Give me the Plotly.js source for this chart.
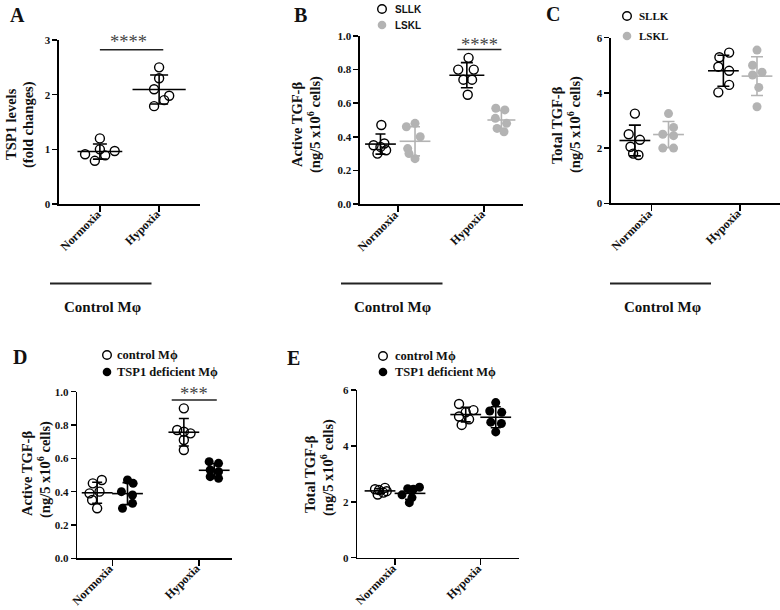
<!DOCTYPE html>
<html><head><meta charset="utf-8">
<script src="https://cdn.plot.ly/plotly-3.0.1.min.js"></script>
<style>body{margin:0;background:#fff}</style>
</head><body>
<div id="chart" style="width:780px;height:610px"></div>
<script>
// ---------------- DATA ----------------
const categories = ['Normoxia', 'Hypoxia'];
// Panel A: TSP1 levels (fold changes), Control Mφ
const aTsp1Normoxia = [1.20, 1.00, 0.91, 0.89, 0.79, 0.97];
const aTsp1Hypoxia  = [2.50, 2.30, 2.10, 1.98, 1.90, 1.79];
// Panel B: Active TGF-β (ng/5x10^6 cells)
const bSllkNormoxia = [0.47, 0.35, 0.36, 0.30, 0.32, 0.34];
const bLsklNormoxia = [0.48, 0.46, 0.40, 0.33, 0.30, 0.27];
const bSllkHypoxia  = [0.87, 0.80, 0.80, 0.74, 0.74, 0.65];
const bLsklHypoxia  = [0.57, 0.56, 0.51, 0.48, 0.45, 0.43];
// Panel C: Total TGF-β
const cSllkNormoxia = [3.25, 2.50, 2.30, 2.05, 1.80, 1.75];
const cLsklNormoxia = [3.25, 2.75, 2.50, 2.45, 2.00, 2.00];
const cSllkHypoxia  = [5.46, 5.29, 4.95, 4.80, 4.29, 4.02];
const cLsklHypoxia  = [5.55, 5.00, 4.75, 4.65, 4.20, 3.50];
// Panel D: Active TGF-β, control vs TSP1 deficient Mϕ
const dControlNormoxia = [0.47, 0.45, 0.40, 0.39, 0.35, 0.30];
const dTsp1dNormoxia   = [0.47, 0.45, 0.40, 0.38, 0.33, 0.30];
const dControlHypoxia  = [0.90, 0.77, 0.76, 0.75, 0.71, 0.65];
const dTsp1dHypoxia    = [0.58, 0.57, 0.53, 0.52, 0.49, 0.48];
// Panel E: Total TGF-β
const eControlNormoxia = [2.50, 2.45, 2.42, 2.38, 2.33, 2.26];
const eTsp1dNormoxia   = [2.52, 2.47, 2.45, 2.25, 2.15, 1.97];
const eControlHypoxia  = [5.50, 5.28, 5.20, 5.05, 4.95, 4.75];
const eTsp1dHypoxia    = [5.55, 5.25, 5.20, 4.85, 4.80, 4.50];
// Tick labels
const tickA = [0, 1, 2, 3];
const tickActive = [0, 0.2, 0.4, 0.6, 0.8, 1.0];
const tickTotal = [0, 2, 4, 6];

// ---------------- LAYOUT HELPERS ----------------
const W = 780, H = 610;
const PX = x => x / W, PY = y => 1 - y / H;
const SERIF = 'Liberation Serif, Times New Roman, DejaVu Serif, serif';
const SANS = 'Liberation Sans, Arial, sans-serif';
const INK = '#111';
const GRAY = '#b3b3b3';

// horizontal scatter spread for each group (category units)
const spread = {
  aN: [0, 0, -0.25, 0.09, -0.085, 0.25],
  aH: [0, 0, -0.085, 0.17, 0.085, -0.085],
  bSN: [0.01, -0.08, 0.045, -0.035, 0.065, 0],
  bLN: [0, -0.1, 0.06, -0.085, -0.07, 0],
  bSH: [0.02, -0.1, 0.08, -0.04, 0.06, 0.01],
  bLH: [-0.065, 0.04, -0.07, 0.06, -0.05, 0.03],
  cSN: [0, -0.07, 0.057, -0.05, -0.02, 0.04],
  cLN: [0, 0.057, -0.065, 0.057, -0.065, 0.057],
  cSH: [0.065, -0.045, -0.057, 0.065, 0.065, -0.057],
  cLH: [0, -0.05, 0.057, -0.05, 0.02, 0],
  dCN: [0.054, -0.05, 0.027, -0.088, -0.058, 0],
  dTN: [0, 0.065, -0.07, 0.058, 0.058, -0.058],
  dCH: [0, -0.077, 0, 0.077, 0, 0],
  dTH: [-0.058, 0.05, -0.046, 0.05, -0.046, 0.05],
  eCN: [0.058, -0.058, -0.012, 0.078, 0.039, -0.027],
  eTN: [0.11, -0.027, 0.039, -0.093, 0.023, -0.008],
  eCH: [-0.078, 0.09, 0, -0.078, 0.039, -0.047],
  eTH: [0, -0.07, 0.07, -0.058, 0.066, 0]
};

const mean = a => a.reduce((s, v) => s + v, 0) / a.length;
const sd = a => { const m = mean(a); return Math.sqrt(a.reduce((s, v) => s + (v - m) * (v - m), 0) / (a.length - 1)); };

const traces = [];
function group(ax, cat, offset, vals, jit, style, meanW, capW) {
  const xs = vals.map((v, i) => cat + offset + jit[i]);
  const open = style === 'open';
  const col = style === 'gray' ? GRAY : '#000';
  traces.push({
    type: 'scatter', mode: 'markers', xaxis: 'x' + ax, yaxis: 'y' + ax,
    x: xs, y: vals, cliponaxis: false, hoverinfo: 'skip',
    marker: open ? {symbol: 'circle-open', size: 9, color: '#000', line: {width: 1.4}}
                 : {symbol: 'circle', size: 9, color: col, line: {width: 0}}
  });
  traces.push({
    type: 'scatter', mode: 'markers', xaxis: 'x' + ax, yaxis: 'y' + ax,
    x: [cat + offset], y: [mean(vals)], cliponaxis: false, hoverinfo: 'skip',
    marker: {symbol: 'line-ew', size: meanW, color: col, line: {width: 1.6, color: col}},
    error_y: {type: 'data', array: [sd(vals)], visible: true, color: col, thickness: 1.6, width: capW}
  });
}

// Panel A
group('', 0, 0, aTsp1Normoxia, spread.aN, 'open', 32, 7);
group('', 1, 0, aTsp1Hypoxia, spread.aH, 'open', 38, 9);
// Panel B
group('2', 0, -0.2, bSllkNormoxia, spread.bSN, 'open', 22, 5);
group('2', 0, 0.2, bLsklNormoxia, spread.bLN, 'gray', 22, 5);
group('2', 1, -0.2, bSllkHypoxia, spread.bSH, 'open', 25, 6);
group('2', 1, 0.2, bLsklHypoxia, spread.bLH, 'gray', 20, 5);
// Panel C
group('3', 0, -0.19, cSllkNormoxia, spread.cSN, 'open', 22, 6);
group('3', 0, 0.19, cLsklNormoxia, spread.cLN, 'gray', 22, 6);
group('3', 1, -0.19, cSllkHypoxia, spread.cSH, 'open', 22, 6);
group('3', 1, 0.19, cLsklHypoxia, spread.cLH, 'gray', 22, 6);
// Panel D
group('4', 0, -0.175, dControlNormoxia, spread.dCN, 'open', 22, 5);
group('4', 0, 0.175, dTsp1dNormoxia, spread.dTN, 'black', 22, 5);
group('4', 1, -0.175, dControlHypoxia, spread.dCH, 'open', 22, 5);
group('4', 1, 0.175, dTsp1dHypoxia, spread.dTH, 'black', 22, 5);
// Panel E
group('5', 0, -0.175, eControlNormoxia, spread.eCN, 'open', 22, 5);
group('5', 0, 0.175, eTsp1dNormoxia, spread.eTN, 'black', 22, 5);
group('5', 1, -0.175, eControlHypoxia, spread.eCH, 'open', 22, 5);
group('5', 1, 0.175, eTsp1dHypoxia, spread.eTH, 'black', 22, 5);

function xAxis(anchor, x0, x1, range) {
  return {
    anchor: anchor, domain: [PX(x0), PX(x1)], range: range,
    tickmode: 'array', tickvals: [0, 1], ticktext: categories, showticklabels: false,
    ticks: 'outside', ticklen: 6, tickwidth: 1.5, tickcolor: '#000',
    showline: true, linewidth: 1.6, linecolor: '#000',
    showgrid: false, zeroline: false, fixedrange: true
  };
}
function yAxis(anchor, yBottom, yTop, range, vals, fmt) {
  return {
    anchor: anchor, domain: [PY(yBottom), PY(yTop)], range: range,
    tickmode: 'array', tickvals: vals, ticktext: vals.map(v => fmt ? v.toFixed(1) : String(v)),
    ticks: 'outside', ticklen: 5, tickwidth: 1.5, tickcolor: '#000',
    showline: true, linewidth: 1.6, linecolor: '#000',
    showgrid: false, zeroline: false, fixedrange: true,
    tickfont: {family: SERIF, size: 11, weight: 700, color: INK}
  };
}

const ann = [];
function txt(x, y, text, size, opts) {
  ann.push(Object.assign({xref: 'paper', yref: 'paper', x: PX(x), y: PY(y), text: text, showarrow: false,
    xanchor: 'center', yanchor: 'middle',
    font: {family: SERIF, size: size, weight: 700, color: INK}}, opts || {}));
}
// Rotated category labels placed at each x tick
function catLabels(ax, axisY) {
  categories.forEach((c, i) => ann.push({
    xref: 'x' + ax, yref: 'paper', x: i, y: PY(axisY), text: c, showarrow: false,
    textangle: -45, xanchor: 'right', yanchor: 'top', xshift: 6, yshift: -1,
    font: {family: SERIF, size: 12, weight: 700, color: INK}
  }));
}
catLabels('', 204); catLabels('2', 204); catLabels('3', 203.3); catLabels('4', 558.3); catLabels('5', 557.7);
// Panel letters
txt(17, 15, 'A', 20); txt(300, 15, 'B', 20); txt(553, 14, 'C', 20);
txt(20, 357, 'D', 20); txt(293, 358, 'E', 20);
// Y-axis titles (two lines each)
const TS = 14.5;
const rot = {textangle: -90};
const activeL1 = 'Active TGF-β', totalL1 = 'Total TGF-β', unitsL2 = '(ng/5 x10<sup>6</sup> cells)';
txt(11, 124, 'TSP1 levels', TS, rot); txt(28, 124, '(fold changes)', TS, rot);
txt(297, 125, activeL1, TS, rot); txt(314, 125, unitsL2, TS, rot);
txt(557, 125, totalL1, TS, rot); txt(574, 125, unitsL2, TS, rot);
txt(27, 474, activeL1, TS, rot); txt(44, 470, unitsL2, TS, rot);
txt(310, 474, totalL1, TS, rot); txt(327, 468, unitsL2, TS, rot);
// Group labels
txt(102, 307, 'Control Mφ', 15); txt(392, 307, 'Control Mφ', 15); txt(662, 307, 'Control Mφ', 15);
// Significance stars
const starFont = {family: SERIF, size: 18.5, weight: 400, color: '#444'};
txt(128, 42, '****', 18.5, {font: starFont});
txt(479, 45.5, '****', 18.5, {font: starFont});
txt(194, 393.5, '***', 18.5, {font: starFont});
// Legends text
const sansLeg = {family: SANS, size: 10, weight: 700, color: INK};
txt(393, 9, 'SLLK', 10, {xanchor: 'left', font: sansLeg});
txt(393, 25, 'LSKL', 10, {xanchor: 'left', font: sansLeg});
txt(637, 16, 'SLLK', 11, {xanchor: 'left'});
txt(637, 36, 'LSKL', 11, {xanchor: 'left'});
txt(115, 355, 'control Mϕ', 12.5, {xanchor: 'left'});
txt(115, 372, 'TSP1 deficient Mϕ', 12.5, {xanchor: 'left'});
txt(393, 356, 'control Mϕ', 12.5, {xanchor: 'left'});
txt(393, 372, 'TSP1 deficient Mϕ', 12.5, {xanchor: 'left'});

const shapes = [];
function dot(cx, cy, kind) {
  const r = 4.3;
  shapes.push({type: 'circle', xref: 'paper', yref: 'paper',
    x0: PX(cx - r), x1: PX(cx + r), y0: PY(cy + r), y1: PY(cy - r),
    fillcolor: kind === 'open' ? 'rgba(0,0,0,0)' : (kind === 'gray' ? GRAY : '#000'),
    line: {width: kind === 'open' ? 1.4 : 0, color: '#000'}});
}
dot(382, 9, 'open'); dot(382, 25, 'gray');
dot(627, 16, 'open'); dot(627, 36, 'gray');
dot(107, 355, 'open'); dot(107, 372, 'black');
dot(383, 356, 'open'); dot(383, 372, 'black');
function hline(x0, x1, y, w, c) {
  shapes.push({type: 'line', xref: 'paper', yref: 'paper', x0: PX(x0), x1: PX(x1), y0: PY(y), y1: PY(y),
    line: {width: w, color: c}});
}
// "Control Mφ" bars
hline(50, 151.5, 283.5, 1.8, '#222'); hline(341, 442.5, 283.5, 1.8, '#222'); hline(610, 711, 283.5, 1.8, '#222');
// significance bars (data coordinates)
shapes.push({type: 'line', xref: 'x', yref: 'y', x0: 0, x1: 1.07, y0: 2.82, y1: 2.82, line: {width: 1.5, color: '#222'}});
shapes.push({type: 'line', xref: 'x2', yref: 'y2', x0: 0.69, x1: 1.2, y0: 0.92, y1: 0.92, line: {width: 1.5, color: '#222'}});
shapes.push({type: 'line', xref: 'x4', yref: 'y4', x0: 0.685, x1: 1.205, y0: 0.95, y1: 0.95, line: {width: 1.5, color: '#222'}});

const layout = {
  width: W, height: H, margin: {l: 0, r: 0, t: 0, b: 0},
  paper_bgcolor: '#fff', plot_bgcolor: 'rgba(0,0,0,0)', showlegend: false,
  xaxis: xAxis('y', 59, 200, [-0.69, 1.69]),
  yaxis: yAxis('x', 204, 40, [0, 3], tickA, false),
  xaxis2: xAxis('y2', 360, 523, [-0.437, 1.45]),
  yaxis2: yAxis('x2', 204, 36, [0, 1], tickActive, true),
  xaxis3: xAxis('y3', 611, 780, [-0.46, 1.45]),
  yaxis3: yAxis('x3', 203.3, 37.7, [0, 6], tickTotal, false),
  xaxis4: xAxis('y4', 77.3, 231.7, [-0.404, 1.377]),
  yaxis4: yAxis('x4', 558.3, 391.7, [0, 1], tickActive, true),
  xaxis5: xAxis('y5', 357.3, 519.3, [-0.44, 1.45]),
  yaxis5: yAxis('x5', 557.7, 390, [0, 6], tickTotal, false),
  annotations: ann, shapes: shapes
};
Plotly.newPlot('chart', traces, layout, {displayModeBar: false, staticPlot: true});
</script>
</body></html>
